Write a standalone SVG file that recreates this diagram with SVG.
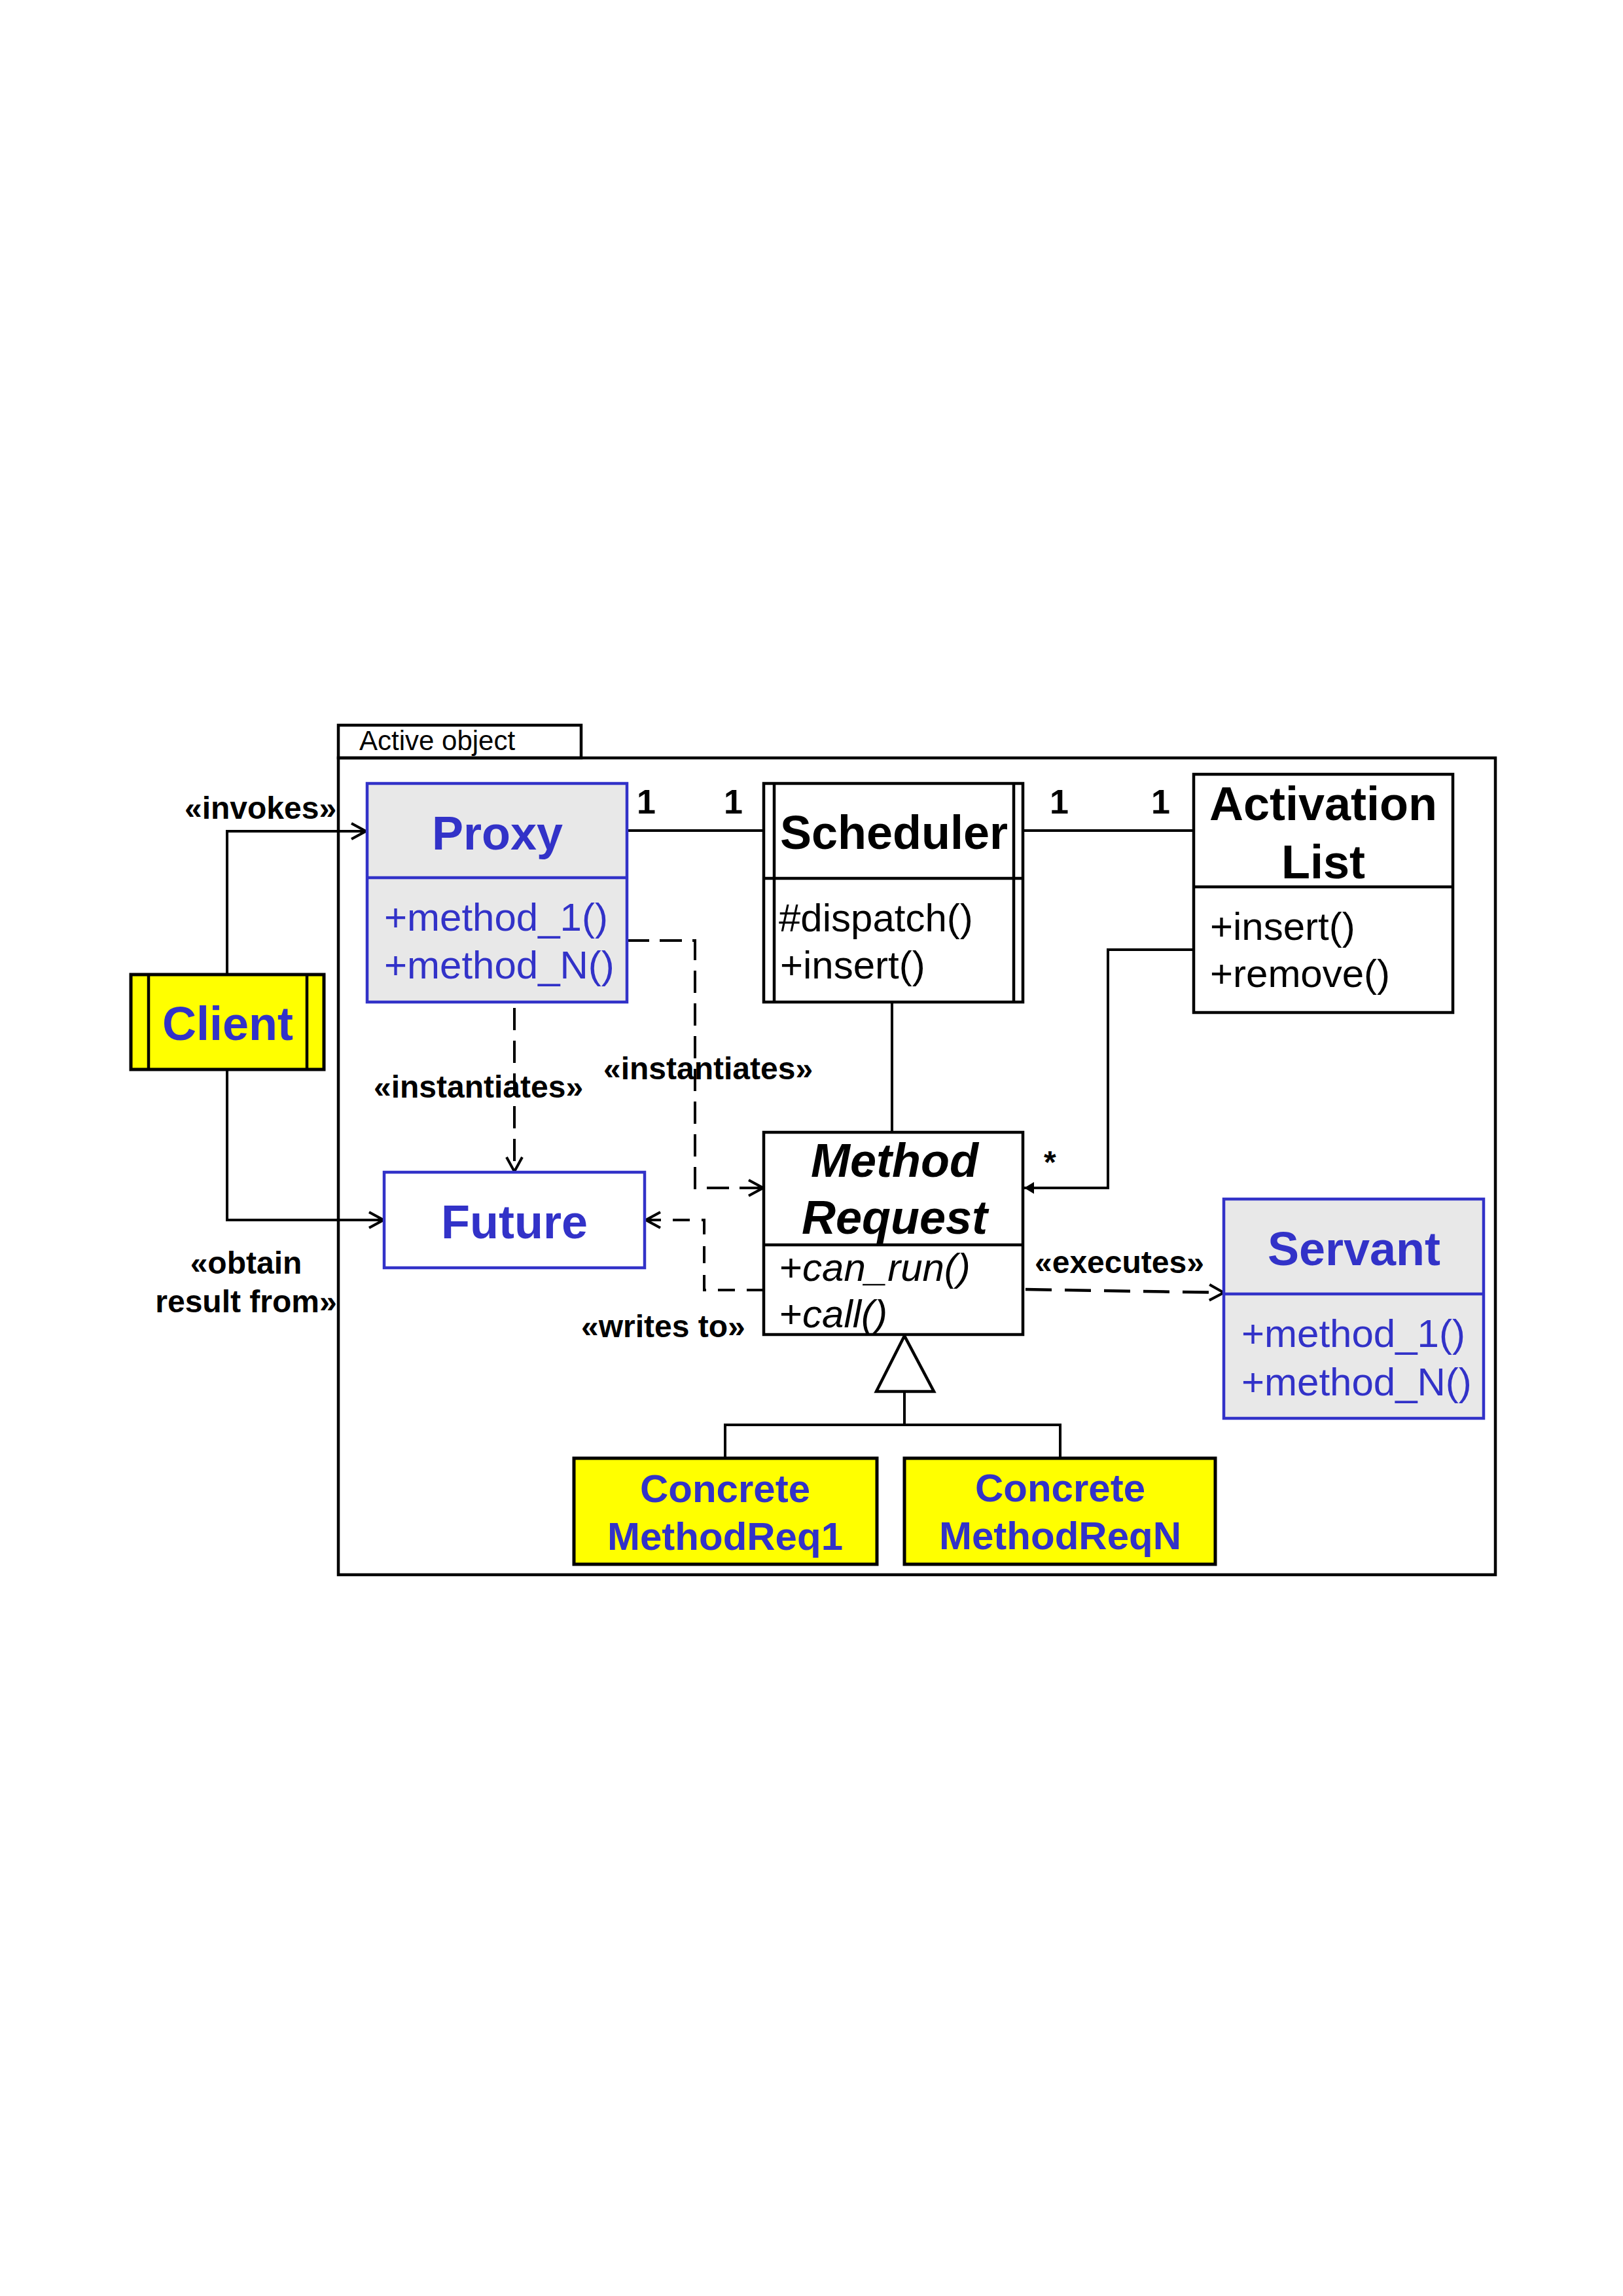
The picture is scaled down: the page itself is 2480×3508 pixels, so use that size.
<svg xmlns="http://www.w3.org/2000/svg" width="2480" height="3508" viewBox="0 0 2480 3508">
<style>
.bg{fill:#ffffff}
.frame{fill:none;stroke:#000;stroke-width:4.5}
.box{fill:#ffffff;stroke:#000;stroke-width:4.5}
.bbox{fill:#e8e8e8;stroke:#3232c8;stroke-width:4.5}
.bwbox{fill:#ffffff;stroke:#3232c8;stroke-width:4.5}
.ybox{fill:#ffff00;stroke:#000;stroke-width:5}
.ln{fill:none;stroke:#000;stroke-width:4.5}
.bln{fill:none;stroke:#3232c8;stroke-width:4.5}
.con{fill:none;stroke:#000;stroke-width:4}
.dash{fill:none;stroke:#000;stroke-width:4;stroke-dasharray:34 16}
.dash2{fill:none;stroke:#000;stroke-width:4;stroke-dasharray:26 18}
.dash3{fill:none;stroke:#000;stroke-width:4.5;stroke-dasharray:40 20}
.title{font-family:"Liberation Sans",Arial,sans-serif;font-weight:bold;font-size:72px;text-anchor:middle}
.ctitle{font-family:"Liberation Sans",Arial,sans-serif;font-weight:bold;font-size:60px;text-anchor:middle;fill:#3232c8}
.op{font-family:"Liberation Sans",Arial,sans-serif;font-size:60px}
.lbl{font-family:"Liberation Sans",Arial,sans-serif;font-weight:bold;font-size:48px;fill:#000}
.mult{font-family:"Liberation Sans",Arial,sans-serif;font-weight:bold;font-size:52px;fill:#000}
.blue{fill:#3232c8}
.blk{fill:#000}
</style>
<defs>
<marker id="open" viewBox="0 0 26 28" refX="23" refY="14" markerWidth="26" markerHeight="28" markerUnits="userSpaceOnUse" orient="auto">
<path d="M1,2 L23,14 L1,26" fill="none" stroke="#000" stroke-width="4"/>
</marker>
<marker id="solid" viewBox="0 0 16 18" refX="15" refY="9" markerWidth="16" markerHeight="18" markerUnits="userSpaceOnUse" orient="auto">
<path d="M0,0 L15,9 L0,18 Z" fill="#000"/>
</marker>
</defs>
<rect class="bg" x="0" y="0" width="2480" height="3508"/>

<g id="active-object-frame">
<rect class="frame" x="517" y="1108" width="371" height="50"/>
<rect class="frame" x="517" y="1158" width="1768" height="1248"/>
<text x="549" y="1146" font-family="'Liberation Sans',Arial,sans-serif" font-size="42" fill="#000">Active object</text>
</g>

<g id="connectors">
<path class="con" d="M347,1489 V1270 H559" marker-end="url(#open)"/>
<path class="con" d="M347,1634 V1864 H586" marker-end="url(#open)"/>
<path class="con" d="M958,1269 H1167"/>
<path class="con" d="M1563,1269 H1824"/>
<path class="con" d="M1363,1531 V1730"/>
<path class="con" d="M1824,1451 H1693 V1815 H1565" marker-end="url(#solid)"/>
<path class="dash" d="M786,1540 V1790" marker-end="url(#open)"/>
<path class="dash" d="M958,1437 H1062 V1815 H1166" marker-end="url(#open)"/>
<path class="dash2" d="M1167,1971 H1076 V1864 H987" marker-end="url(#open)"/>
<path class="dash3" d="M1567,1970 L1870,1975" marker-end="url(#open)"/>
<polygon points="1382,2041 1339,2126 1427,2126" fill="#fff" stroke="#000" stroke-width="4.5"/>
<path class="con" d="M1382,2126 V2177"/>
<path class="con" d="M1108,2228 V2177 H1620 V2228"/>
<text class="lbl" x="282" y="1251">«invokes»</text>
<text class="lbl" x="376" y="1946" text-anchor="middle">«obtain</text>
<text class="lbl" x="376" y="2005" text-anchor="middle">result from»</text>
<text class="lbl" x="571" y="1677">«instantiates»</text>
<text class="lbl" x="922" y="1649">«instantiates»</text>
<text class="lbl" x="888" y="2043">«writes to»</text>
<text class="lbl" x="1581" y="1945">«executes»</text>
<text class="mult" x="973" y="1243">1</text>
<text class="mult" x="1106" y="1243">1</text>
<text class="mult" x="1604" y="1243">1</text>
<text class="mult" x="1759" y="1243">1</text>
<text class="lbl" x="1595" y="1792" font-size="72">*</text>
</g>

<g id="client">
<rect class="ybox" x="200" y="1489" width="295" height="145"/>
<line class="ln" x1="227" y1="1489" x2="227" y2="1634"/>
<line class="ln" x1="469" y1="1489" x2="469" y2="1634"/>
<text class="title blue" x="348" y="1589">Client</text>
</g>

<g id="proxy">
<rect class="bbox" x="561" y="1197" width="397" height="334"/>
<line class="bln" x1="561" y1="1341" x2="958" y2="1341"/>
<text class="title blue" x="760" y="1298">Proxy</text>
<text class="op blue" x="587" y="1422">+method_1()</text>
<text class="op blue" x="587" y="1495">+method_N()</text>
</g>

<g id="scheduler">
<rect class="box" x="1167" y="1197" width="396" height="334"/>
<line class="ln" x1="1183" y1="1197" x2="1183" y2="1531"/>
<line class="ln" x1="1549" y1="1197" x2="1549" y2="1531"/>
<line class="ln" x1="1167" y1="1342" x2="1563" y2="1342"/>
<text class="title blk" x="1366" y="1297">Scheduler</text>
<text class="op blk" x="1190" y="1423">#dispatch()</text>
<text class="op blk" x="1192" y="1495">+insert()</text>
</g>

<g id="activation-list">
<rect class="box" x="1824" y="1183" width="396" height="364"/>
<line class="ln" x1="1824" y1="1355" x2="2220" y2="1355"/>
<text class="title blk" x="2022" y="1253">Activation</text>
<text class="title blk" x="2022" y="1342">List</text>
<text class="op blk" x="1849" y="1436">+insert()</text>
<text class="op blk" x="1849" y="1508">+remove()</text>
</g>

<g id="future">
<rect class="bwbox" x="587" y="1791" width="398" height="146"/>
<text class="title blue" x="786" y="1892">Future</text>
</g>

<g id="method-request">
<rect class="box" x="1167" y="1730" width="396" height="309"/>
<line class="ln" x1="1167" y1="1902" x2="1563" y2="1902"/>
<text class="title blk" x="1367" y="1798" font-style="italic">Method</text>
<text class="title blk" x="1367" y="1885" font-style="italic">Request</text>
<text class="op blk" x="1191" y="1957">+<tspan font-style="italic">can_run()</tspan></text>
<text class="op blk" x="1191" y="2028">+<tspan font-style="italic">call()</tspan></text>
</g>

<g id="servant">
<rect class="bbox" x="1870" y="1832" width="397" height="335"/>
<line class="bln" x1="1870" y1="1977" x2="2267" y2="1977"/>
<text class="title blue" x="2069" y="1933">Servant</text>
<text class="op blue" x="1897" y="2058">+method_1()</text>
<text class="op blue" x="1897" y="2132">+method_N()</text>
</g>

<g id="concrete-methodreq1">
<rect class="ybox" x="877" y="2228" width="463" height="162"/>
<text class="ctitle" x="1108" y="2295">Concrete</text>
<text class="ctitle" x="1108" y="2368">MethodReq1</text>
</g>

<g id="concrete-methodreqn">
<rect class="ybox" x="1382" y="2228" width="475" height="162"/>
<text class="ctitle" x="1620" y="2294">Concrete</text>
<text class="ctitle" x="1620" y="2367">MethodReqN</text>
</g>
</svg>
